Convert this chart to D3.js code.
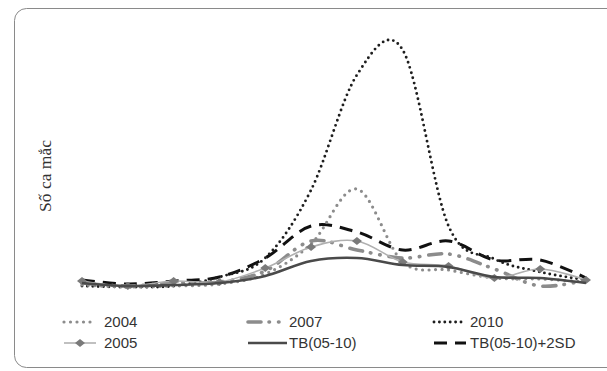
<html>
<head>
<meta charset="utf-8">
<style>
    body{
        margin: 0;
        background: white;
    }
    .line{
        fill: none;
    }
    .legendText{
        font-family: "Liberation Sans", Arial, sans-serif;
        font-size: 15px;
        fill: #333;
    }
</style>
</head>
<script src="https://d3js.org/d3.v7.min.js"></script>
<body>
    <svg id="chart"></svg>
</body>

<script>
    // months of the year (no tick labels drawn on the original)
    let months = ['1','2','3','4','5','6','7','8','9','10','11','12'];

    let y2004 = [10, 8, 9, 11, 21, 51, 106, 33, 25, 17, 16, 13];
    let y2005 = [14, 9, 14, 13, 27, 48, 54, 33, 29, 17, 26, 15];
    let y2007 = [12, 9, 12, 13, 24, 54, 45, 37, 41, 26, 9, 15];
    let y2010 = [9, 8, 9, 18, 37, 105, 220, 245, 69, 36, 23, 15];
    let tb = [12, 9, 10, 12, 19, 34, 37, 30, 28, 18, 17, 12];
    let tb2sd = [15, 11, 14, 18, 37, 69, 63, 45, 54, 35, 35, 17];

    let yLabel = 'Số ca mắc';
    let maxValue = 260;

    let series = [
        {name: '2004', values: y2004, color: '#8c8c8c', width: 3.2, dash: '0 6.5', cap: 'round'},
        {name: '2007', values: y2007, color: '#8c8c8c', width: 3.6, dash: '13 8 0.5 9 0.5 9', cap: 'round'},
        {name: '2010', values: y2010, color: '#1e1e1e', width: 2.9, dash: '0 5.4', cap: 'round'},
        {name: '2005', values: y2005, color: '#b0b0b0', width: 1.6, dash: null, cap: 'butt', marker: true},
        {name: 'TB(05-10)', values: tb, color: '#4a4a4a', width: 2.6, dash: null, cap: 'butt'},
        {name: 'TB(05-10)+2SD', values: tb2sd, color: '#111', width: 3, dash: '13 8', cap: 'butt'}
    ];

    // draw order: back to front
    let drawOrder = ['TB(05-10)+2SD', '2010', '2004', '2007', '2005', 'TB(05-10)'];

    // wide diamond marker, like the original
    let diamond = 'M-5,0L0,-4L5,0L0,4Z';

    function getConfig(){
        let width = 607;
        let height = 371;
        let margin = {
            top: 35,
            bottom: 76,
            left: 82,
            right: 21
        }
        let bodyHeight = height - margin.top - margin.bottom;
        let bodyWidth = width - margin.left - margin.right;

        let container = d3.select('#chart')
            .attr('width', width)
            .attr('height', height);

        return {width, height, margin, bodyHeight, bodyWidth, container};
    }

    function getScales(config){
        let xScale = d3.scalePoint()
            .domain(months)
            .range([0, config.bodyWidth]);

        let yScale = d3.scaleLinear()
            .domain([0, maxValue])
            .range([config.bodyHeight, 0]);

        return {xScale, yScale};
    }

    function drawFrame(config){
        let {container} = config;
        container.append('rect')
            .attr('x', 14.5)
            .attr('y', 8.5)
            .attr('width', 640)
            .attr('height', 359)
            .attr('rx', 12)
            .attr('fill', 'none')
            .attr('stroke', '#8a8a8a')
            .attr('stroke-width', 1);

        container.append('text')
            .attr('transform', 'translate(51,176) rotate(-90)')
            .attr('text-anchor', 'middle')
            .style('font-family', '"Liberation Serif", "Times New Roman", serif')
            .style('font-size', '17.5px')
            .attr('fill', '#333')
            .text(yLabel);
    }

    function drawLines(scales, config){
        let {margin, container} = config;
        let {xScale, yScale} = scales;
        let body = container.append('g')
            .attr('transform', `translate(${margin.left},${margin.top})`);

        let lineG = d3.line()
            .x((d, i) => xScale(months[i]))
            .y(d => yScale(d))
            .curve(d3.curveCardinal.tension(0));

        drawOrder.forEach(name => {
            let s = series.find(d => d.name === name);
            body.append('path')
                .datum(s.values)
                .attr('class', 'line')
                .attr('d', lineG)
                .attr('stroke', s.color)
                .attr('stroke-width', s.width)
                .attr('stroke-dasharray', s.dash)
                .attr('stroke-linecap', s.cap);

            if(s.marker){
                body.selectAll('.marker')
                    .data(s.values)
                    .enter().append('path')
                    .attr('class', 'marker')
                    .attr('d', diamond)
                    .attr('transform', (d, i) => `translate(${xScale(months[i])},${yScale(d)})`)
                    .attr('fill', '#7a7a7a');
            }
        })
    }

    function drawLegend(config){
        let {container} = config;
        // layout of the 3x2 legend grid
        let cols = [{x0: 64, x1: 96, tx: 104}, {x0: 248, x1: 287, tx: 289}, {x0: 434, x1: 466, tx: 470}];
        let rows = [322, 343];

        series.forEach((s, i) => {
            let c = cols[i % 3];
            let r = rows[Math.floor(i / 3)];
            let g = container.append('g');
            g.append('line')
                .attr('x1', c.x0)
                .attr('x2', c.x1)
                .attr('y1', r)
                .attr('y2', r)
                .attr('stroke', s.color)
                .attr('stroke-width', s.width)
                .attr('stroke-dasharray', s.dash)
                .attr('stroke-linecap', s.cap);
            if(s.marker){
                g.append('path')
                    .attr('d', diamond)
                    .attr('transform', `translate(${(c.x0 + c.x1) / 2},${r})`)
                    .attr('fill', '#7a7a7a');
            }
            g.append('text')
                .attr('class', 'legendText')
                .attr('x', c.tx)
                .attr('y', r)
                .attr('dy', '0.36em')
                .text(s.name);
        })
    }

    function drawChart(){
        let config = getConfig();
        let scales = getScales(config);
        drawFrame(config);
        drawLines(scales, config);
        drawLegend(config);
    }

    drawChart();
</script>
</html>
